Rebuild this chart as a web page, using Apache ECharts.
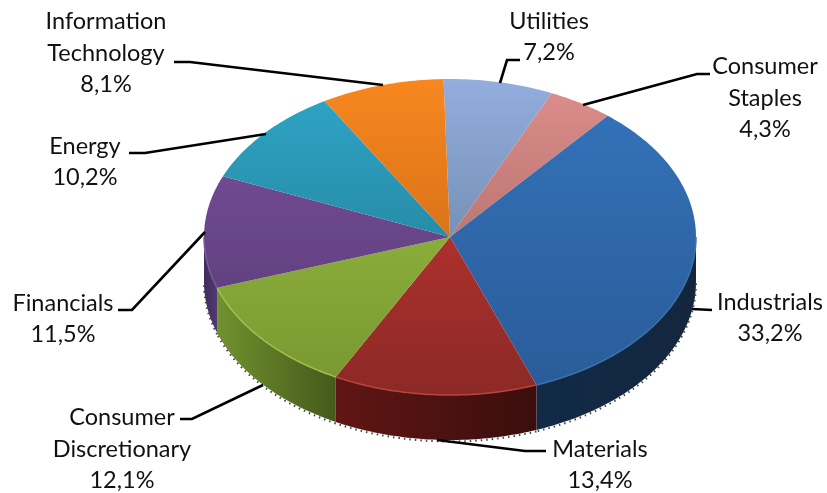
<!DOCTYPE html>
<html>
<head>
<meta charset="utf-8">
<style>
  html, body { margin: 0; padding: 0; background: #fff; }
  #chart { width: 827px; height: 493px; }
</style>
<script src="https://cdn.jsdelivr.net/npm/echarts@6/dist/echarts.min.js"></script>
</head>
<body>
<div id="chart"></div>
<script>
const categories = ['Utilities', 'Consumer\nStaples', 'Industrials', 'Materials', 'Consumer\nDiscretionary', 'Financials', 'Energy', 'Information\nTechnology'];
const shares = [7.2, 4.3, 33.2, 13.4, 12.1, 11.5, 10.2, 8.1];

// top face gradient (far edge -> near edge)
const topColors = [
    ['#93aedd', '#5a7392'], ['#dd8e8c', '#9a5f5a'], ['#3474bb', '#2a5b98'], ['#cc3833', '#8c2926'],
    ['#9dc242', '#779731'], ['#7c50a0', '#553a70'], ['#2fa6c8', '#1e7388'], ['#f8871f', '#bc5f12']
];
const rimColors = ['#8aa2cc', '#d08684', '#3a72ae', '#b8453f', '#a0c054', '#7c5a9c', '#3ea8c4', '#e8892f'];
// side wall gradient (left -> right)
const wallColors = [
    ['#6a80a0', '#6a80a0'], ['#8a5654', '#8a5654'], ['#122a47', '#13263d'], ['#601614', '#3a0e0d'],
    ['#71922f', '#435a1b'], ['#3f2b5c', '#523a72'], ['#1d6a80', '#1d6a80'], ['#a85412', '#a85412']
];

// pie geometry
const cx = 450, cy = 237, rx = 246, ry = 158, depth = 45, startAngle = -1.5;

// label placement: text centre, leader line
const labelLayout = [
    { x: 549, y: 37, line: [[520, 60], [507, 60], [500, 83]] },
    { x: 765, y: 98, line: [[710, 74], [697, 74], [583, 105]] },
    { x: 770, y: 318, line: [[712, 310], [692, 309]] },
    { x: 600, y: 465, line: [[546, 451], [525, 451], [437, 440]] },
    { x: 122, y: 449, line: [[180, 419], [192, 419], [263, 385]] },
    { x: 63, y: 319, line: [[118, 310], [132, 310], [205, 232]] },
    { x: 85, y: 162, line: [[129, 153], [145, 153], [266, 134]] },
    { x: 106, y: 53, line: [[174, 62], [190, 62], [383, 85]] }
];

const total = shares.reduce((a, b) => a + b, 0);
const sliceEdges = (idx) => {
    let sum = 0;
    for (let i = 0; i < idx; i++) sum += shares[i];
    return [startAngle + sum / total * 360, startAngle + (sum + shares[idx]) / total * 360];
};
const rimPoint = (deg, dy) => {
    const t = deg * Math.PI / 180;
    return [cx + rx * Math.sin(t), cy - ry * Math.cos(t) + (dy || 0)];
};
const arc = (from, to, dy) => {
    const pts = [];
    const steps = Math.max(2, Math.ceil(Math.abs(to - from)));
    for (let i = 0; i <= steps; i++) pts.push(rimPoint(from + (to - from) * i / steps, dy));
    return pts;
};
const gradient = (x, y, x2, y2, colors) => ({
    type: 'linear', x, y, x2, y2, global: true,
    colorStops: [{ offset: 0, color: colors[0] }, { offset: 1, color: colors[1] }]
});

const renderWall = (params) => {
    const [a0, a1] = sliceEdges(params.dataIndex);
    const from = Math.max(a0, 90), to = Math.min(a1, 270);
    if (to <= from) return { type: 'group', children: [] };
    const upper = arc(from, to, 0), lower = arc(from, to, depth);
    const xs = upper.map(p => p[0]);
    const left = Math.min(...xs), right = Math.max(...xs);
    return {
        type: 'group',
        children: [
            {
                type: 'polygon',
                shape: { points: upper.concat(lower.reverse()) },
                style: { fill: gradient(left, 0, right, 0, wallColors[params.dataIndex]) }
            },
            {
                // speckled outline under the wall
                type: 'polyline',
                shape: { points: arc(from, to, depth + 1.5) },
                style: { fill: null, stroke: '#444', lineWidth: 2, lineDash: [1.5, 4] }
            }
        ]
    };
};

const renderTop = (params) => {
    const i = params.dataIndex;
    const [a0, a1] = sliceEdges(i);
    const children = [{
        type: 'polygon',
        shape: { points: [[cx, cy]].concat(arc(a0, a1, 0)) },
        style: { fill: gradient(0, cy - ry, 0, cy + ry, topColors[i]) }
    }];
    const from = Math.max(a0, 90), to = Math.min(a1, 270);
    if (to > from) {
        children.push({
            type: 'polyline',
            shape: { points: arc(from, to, 0) },
            style: { fill: null, stroke: rimColors[i], lineWidth: 1.5 }
        });
    }
    return { type: 'group', children };
};

const renderLabel = (params, api) => {
    const i = params.dataIndex;
    const pos = labelLayout[i];
    const pct = api.value(0).toFixed(1).replace('.', ',') + '%';
    return {
        type: 'group',
        children: [
            {
                type: 'polyline',
                shape: { points: pos.line },
                style: { fill: null, stroke: '#000', lineWidth: 2.6 }
            },
            {
                type: 'text',
                x: pos.x,
                y: pos.y,
                style: {
                    text: categories[i] + '\n' + pct,
                    fill: '#111',
                    font: '23.5px Lato',
                    lineHeight: 31.5,
                    align: 'center',
                    verticalAlign: 'middle'
                }
            }
        ]
    };
};

const chart = echarts.init(document.getElementById('chart'), null, { renderer: 'canvas' });
chart.setOption({
    backgroundColor: '#fff',
    animation: false,
    series: [
        { type: 'custom', coordinateSystem: 'none', silent: true, z: 1, renderItem: renderWall, data: shares },
        { type: 'custom', coordinateSystem: 'none', silent: true, z: 2, renderItem: renderTop, data: shares },
        { type: 'custom', coordinateSystem: 'none', silent: true, z: 3, renderItem: renderLabel, data: shares }
    ]
});
</script>
</body>
</html>
